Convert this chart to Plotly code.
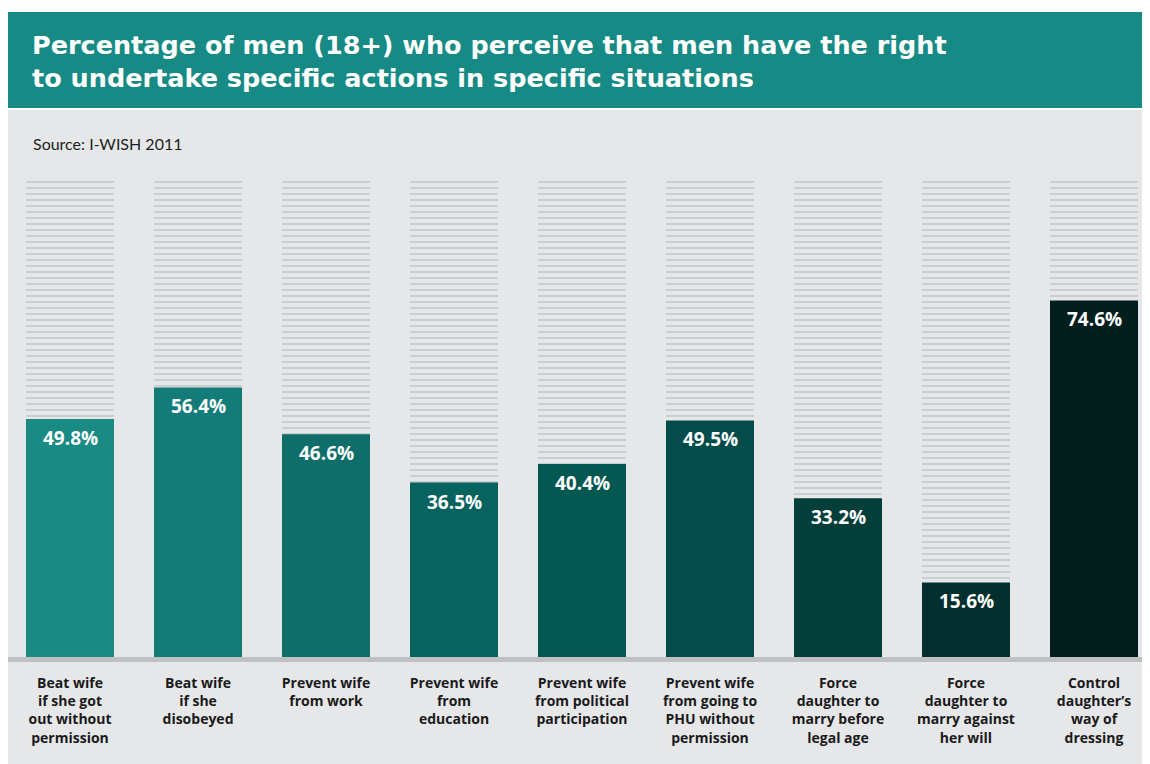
import plotly.graph_objects as go

# ---- data ----
categories = [
    "Beat wife<br>if she got<br>out without<br>permission",
    "Beat wife<br>if she<br>disobeyed",
    "Prevent wife<br>from work",
    "Prevent wife<br>from<br>education",
    "Prevent wife<br>from political<br>participation",
    "Prevent wife<br>from going to<br>PHU without<br>permission",
    "Force<br>daughter to<br>marry before<br>legal age",
    "Force<br>daughter to<br>marry against<br>her will",
    "Control<br>daughter’s<br>way of<br>dressing",
]
values = [49.8, 56.4, 46.6, 36.5, 40.4, 49.5, 33.2, 15.6, 74.6]
full_scale = [100, 100, 100, 100, 100, 100, 100, 100, 100]
value_labels = ["49.8%", "56.4%", "46.6%", "36.5%", "40.4%", "49.5%", "33.2%", "15.6%", "74.6%"]

bar_colors = ["#1A8A85", "#147C78", "#0F6E6A", "#08625E", "#055752",
              "#034C49", "#043E3B", "#03302E", "#021E1D"]

title_text = ("Percentage of men (18+) who perceive that men have the right<br>"
              "to undertake specific actions in specific situations")
source_text = "Source: I-WISH 2011"

# ---- geometry helpers ----
# The page body has an 8px margin, so page pixel p maps to figure pixel p-8.
OFF = 8
W, H = 1150 - OFF, 764 - OFF
PLOT_LEFT, PLOT_RIGHT, PLOT_TOP, PLOT_BOTTOM = 26, 1138, 179, 657  # page px
L = PLOT_LEFT - OFF
R = W - (PLOT_RIGHT - OFF)
T = PLOT_TOP - OFF
B = H - (PLOT_BOTTOM - OFF)
PW = PLOT_RIGHT - PLOT_LEFT
PH = PLOT_BOTTOM - PLOT_TOP


def px_x(px):
    return (px - PLOT_LEFT) / PW


def px_y(py):
    return (PLOT_BOTTOM - py) / PH


PANEL = "#E6E7E9"

fig = go.Figure()
fig.add_bar(
    x=categories, y=full_scale,
    marker=dict(color=PANEL, line=dict(width=0),
                pattern=dict(shape="-", fgcolor="#C6C8CB", bgcolor=PANEL,
                             size=6, solidity=0.28, fillmode="replace")),
    hoverinfo="skip", showlegend=False,
)
fig.add_bar(
    x=categories, y=values,
    marker=dict(color=bar_colors, line=dict(width=0)),
    hoverinfo="skip", showlegend=False,
)

annotations = []
for c, v, t in zip(categories, values, value_labels):
    annotations.append(dict(
        x=c, y=v, xref="x", yref="y", text=t, showarrow=False,
        yanchor="top", yshift=-4,
        font=dict(family="Open Sans", size=19, color="white", weight="bold"),
    ))

annotations.append(dict(
    xref="paper", yref="paper", x=px_x(30), y=px_y(28),
    xanchor="left", yanchor="top", align="left", showarrow=False,
    text=title_text,
    font=dict(family="DejaVu Sans", size=25.5, color="white", weight="bold"),
))
annotations.append(dict(
    xref="paper", yref="paper", x=px_x(31), y=px_y(144),
    xanchor="left", yanchor="middle", showarrow=False,
    text=source_text,
    font=dict(family="Lato", size=16, color="#231F20"),
))

shapes = [
    # grey body panel
    dict(type="rect", xref="paper", yref="paper", layer="below",
         x0=px_x(7), x1=px_x(1146), y0=px_y(764), y1=px_y(110),
         fillcolor=PANEL, line=dict(width=0)),
    # teal title band
    dict(type="rect", xref="paper", yref="paper", layer="below",
         x0=px_x(7), x1=px_x(1146), y0=px_y(108), y1=px_y(12),
         fillcolor="#178A85", line=dict(width=0)),
    # baseline bar
    dict(type="rect", xref="paper", yref="paper", layer="below",
         x0=px_x(7), x1=px_x(1146), y0=px_y(662), y1=px_y(657),
         fillcolor="#BFC0C2", line=dict(width=0)),
]

fig.update_layout(
    width=W, height=H,
    margin=dict(l=L, r=R, t=T, b=B, pad=0),
    paper_bgcolor="white", plot_bgcolor="rgba(0,0,0,0)",
    barmode="overlay", bargap=0.3125,
    xaxis=dict(range=[-0.34375, 8.34375], showgrid=False, zeroline=False,
               showline=False, ticks="", ticklabelstandoff=16,
               tickfont=dict(family="Open Sans", size=14, color="#1A1A1A", weight="bold"),
               fixedrange=True),
    yaxis=dict(range=[0, 100], visible=False, fixedrange=True),
    annotations=annotations, shapes=shapes,
    hovermode=False,
)

fig.write_html("out.html", config=dict(displayModeBar=False))
